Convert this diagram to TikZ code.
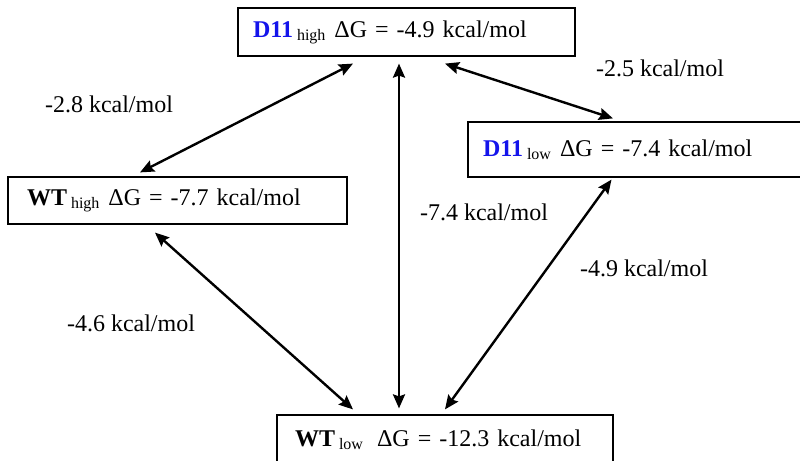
\documentclass[tikz,border=0pt]{standalone}
\usepackage{fontspec}
\setmainfont{Liberation Serif}
\usepackage{xcolor}
\usetikzlibrary{arrows.meta,calc,positioning}
\definecolor{dblue}{RGB}{20,20,235}
\newcommand{\sublbl}[1]{\raisebox{-1.6pt}{\fontsize{8}{9}\selectfont #1}}

\begin{document}
\begin{tikzpicture}[
        x=0.5pt, y=-0.5pt,
        font=\fontsize{12}{14}\selectfont,
        statebox/.style={rectangle, draw, line width=0.6pt, align=left, inner ysep=0pt},
        energy/.style={inner sep=0pt},
        link/.style={line width=1.2pt, {Stealth[length=7pt,width=6pt,inset=1pt]}-{Stealth[length=7pt,width=6pt,inset=1pt]}}
    ]
        \useasboundingbox (0,0) rectangle (800,461);

        % D11 high state
        \node[statebox, inner xsep=7.5pt, text width=153.5pt, minimum height=24pt] (d11high) at (406.5,32)
            {\textbf{\textcolor{dblue}{D11}}\,\sublbl{high}\hspace{4.5pt}ΔG = -4.9 kcal/mol};

        % WT high state
        \node[statebox, inner xsep=9.5pt, text width=150.5pt, minimum height=23.5pt] (wthigh) at (177.5,200.5)
            {\textbf{WT}\,\sublbl{high}\hspace{4.5pt}ΔG = -7.7 kcal/mol};

        % D11 low state
        \node[statebox, inner xsep=7.5pt, text width=152pt, minimum height=27.5pt] (d11low) at (635,149.5)
            {\textbf{\textcolor{dblue}{D11}}\,\sublbl{low}\hspace{4.5pt}ΔG = -7.4 kcal/mol};

        % WT low state
        \node[statebox, inner xsep=9pt, text width=150pt, minimum height=25pt] (wtlow) at (445,440)
            {\textbf{WT}\,\sublbl{low}\hspace{7pt}ΔG = -12.3 kcal/mol};

        % Connections
        \draw[link] ($(d11high.south)+(-53.5,7)$) -- ($(wthigh.north)+(-37.5,-4)$);
        \draw[link] ($(d11high.south)+(-7.5,7)$) -- ($(wtlow.north)+(-46,-6)$);
        \draw[link] ($(d11high.south)+(38.5,7)$) -- ($(d11low.north)+(-22,-3)$);
        \draw[link] ($(wthigh.south)+(-22.5,8)$) -- ($(wtlow.north)+(-92,-5)$);
        \draw[link] ($(d11low.south)+(-23.5,2)$) -- ($(wtlow.north)+(0,-5)$);

        % Energy differences
        \node[energy] (e28) at (109,104) {-2.8 kcal/mol};
        \node[energy] (e25) at (660,68) {-2.5 kcal/mol};
        \node[energy] (e74) at (484,212) {-7.4 kcal/mol};
        \node[energy] (e49) at (644,268) {-4.9 kcal/mol};
        \node[energy] (e46) at (131,323) {-4.6 kcal/mol};
    \end{tikzpicture}
\end{document}
